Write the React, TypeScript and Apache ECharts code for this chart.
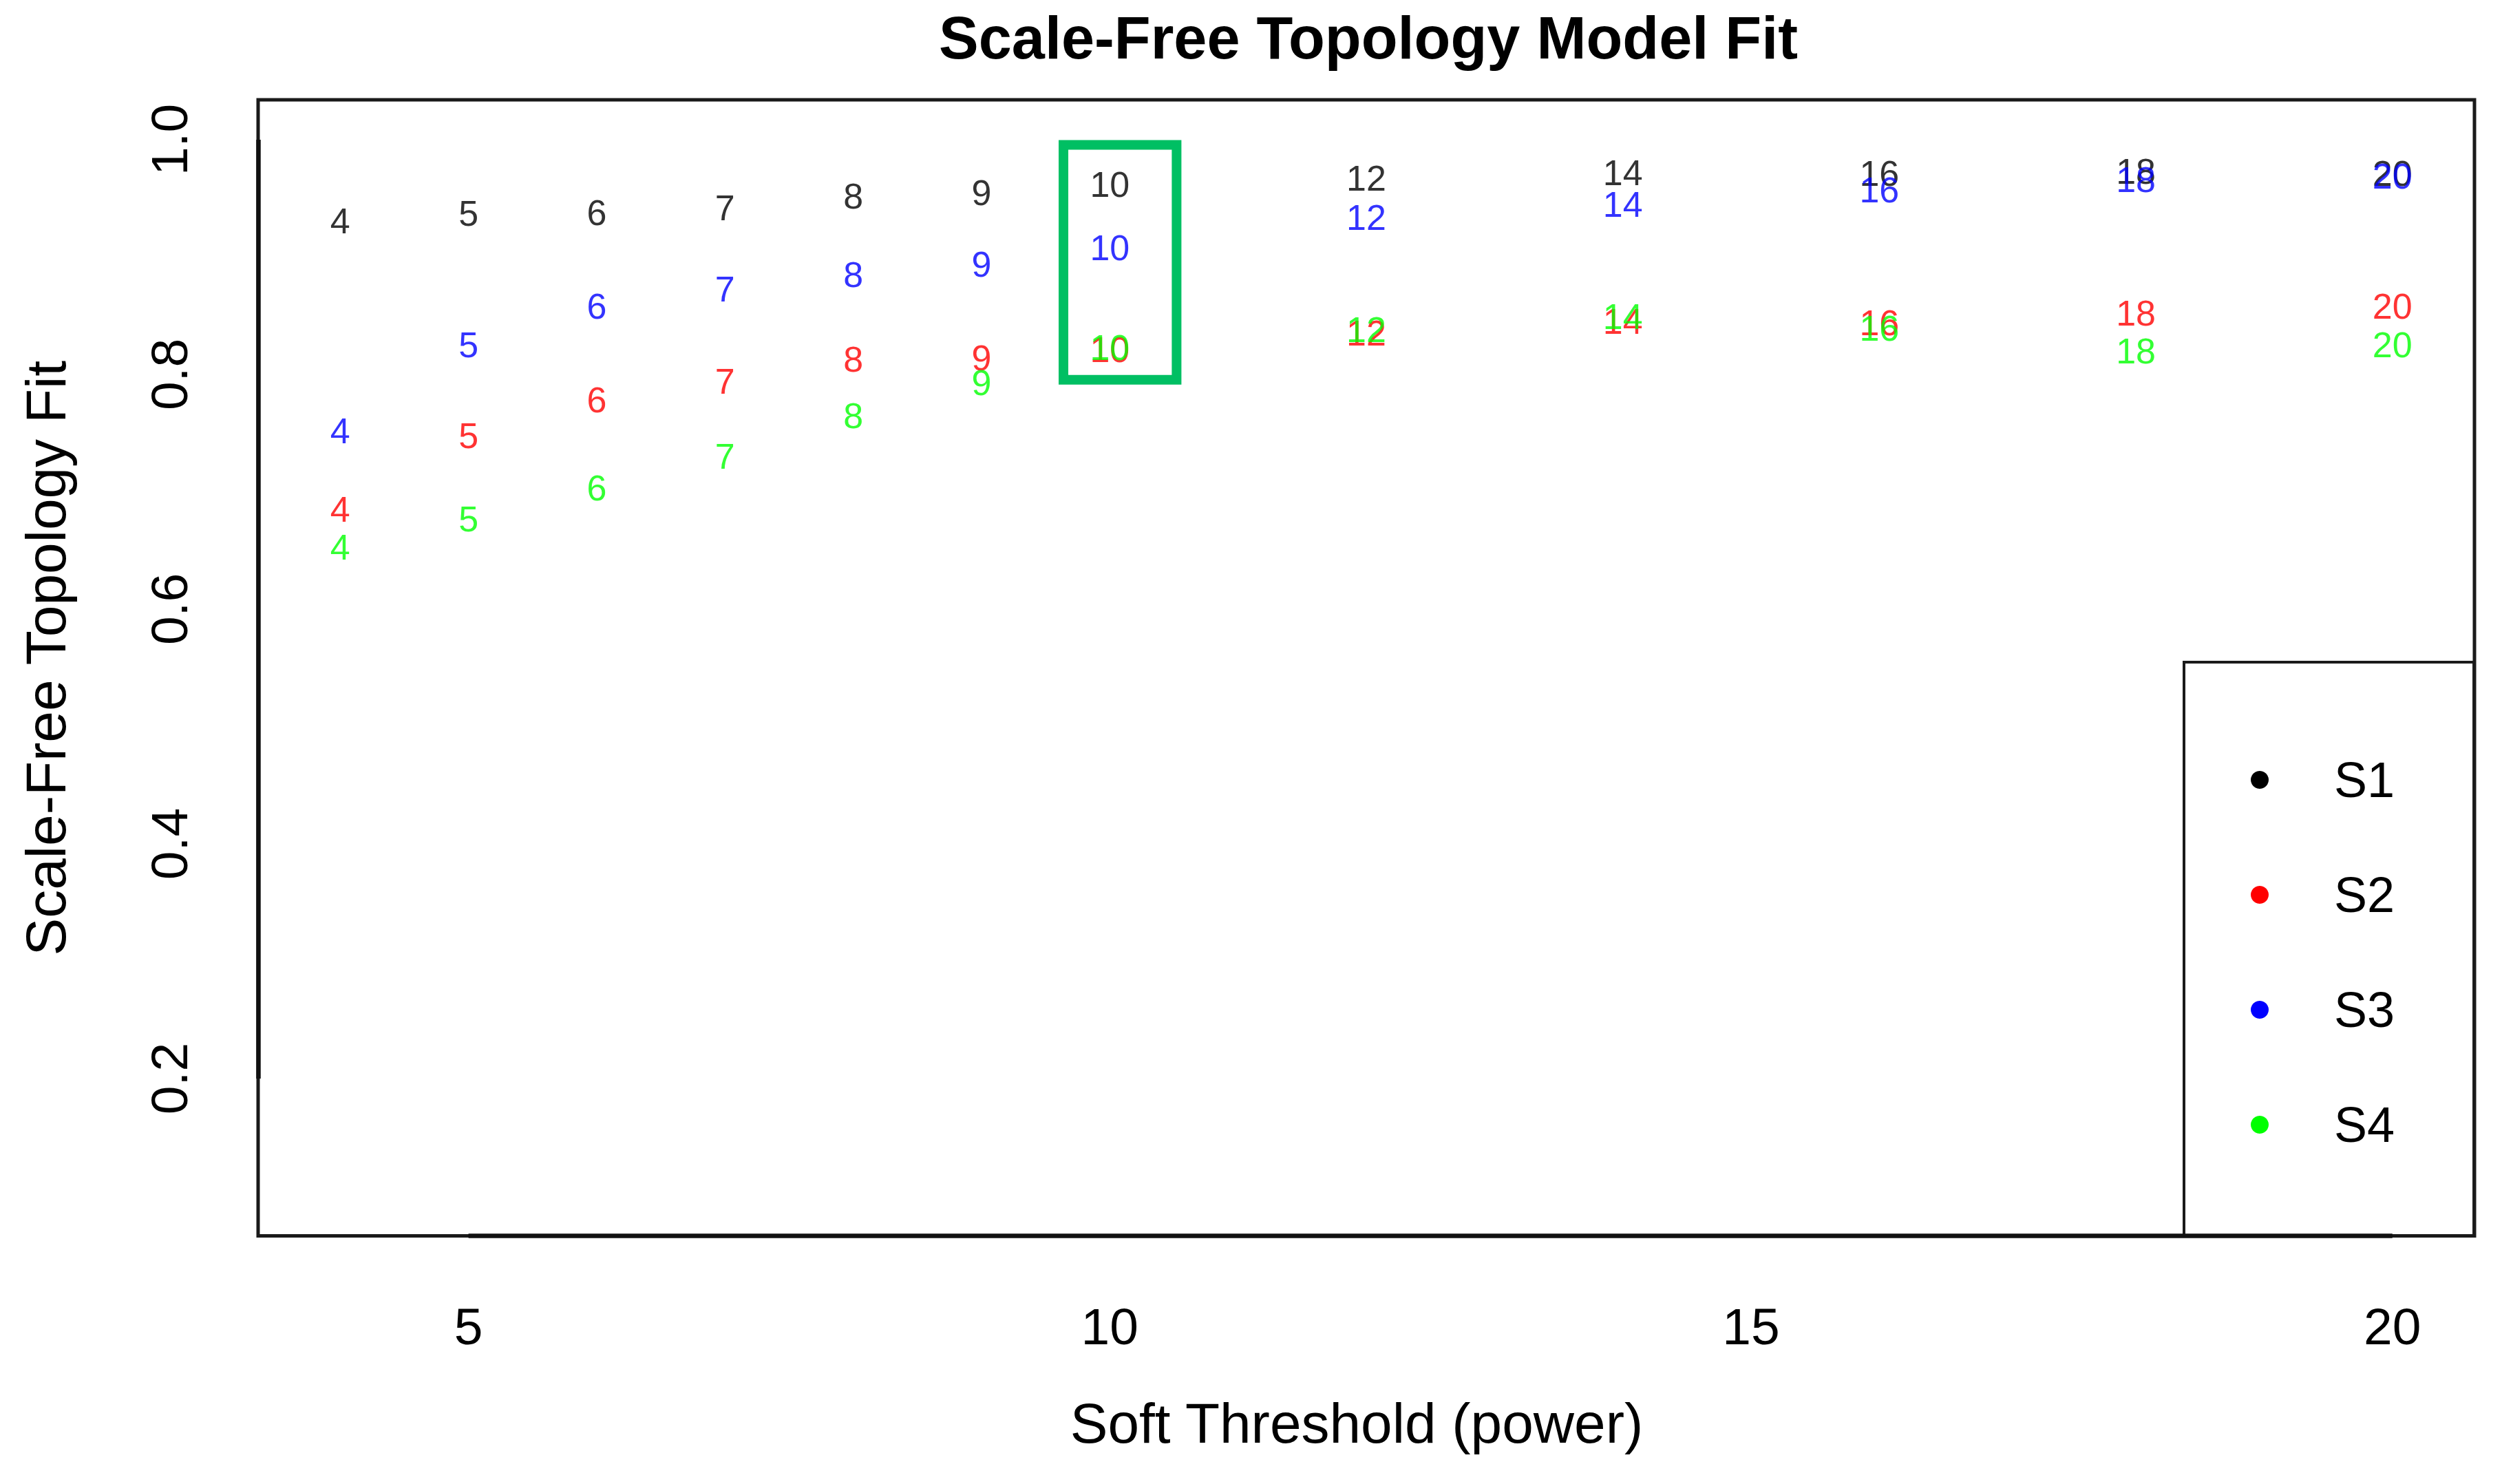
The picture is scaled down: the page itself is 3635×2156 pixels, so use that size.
import React, { useEffect, useRef } from "react";
import * as echarts from "echarts";

// ---- data ----
const powers = [4, 5, 6, 7, 8, 9, 10, 12, 14, 16, 18, 20];
const seriesNames = ["S1", "S2", "S3", "S4"];
const seriesColors = ["#000000", "#FF0000", "#0000FF", "#00FF00"];
const s1Fit = [0.931, 0.937, 0.938, 0.942, 0.952, 0.955, 0.962, 0.967, 0.972, 0.971, 0.973, 0.971];
const s2Fit = [0.685, 0.748, 0.778, 0.794, 0.813, 0.814, 0.821, 0.835, 0.845, 0.844, 0.852, 0.858];
const s3Fit = [0.752, 0.825, 0.858, 0.873, 0.885, 0.894, 0.908, 0.934, 0.945, 0.957, 0.966, 0.969];
const s4Fit = [0.653, 0.677, 0.703, 0.730, 0.765, 0.793, 0.823, 0.838, 0.849, 0.839, 0.820, 0.825];
const xTicks = [5, 10, 15, 20];
const yTicks = [0.2, 0.4, 0.6, 0.8, 1.0];

// axis ranges (R style: data range widened by 4%)
const xMin = 3.36;
const xMax = 20.64;
const yMin = 0.066;
const yMax = 1.034;

// highlight box around the chosen power (data coordinates)
const boxX = [9.639, 10.521];
const boxY = [0.7955, 0.9956];

const FONT = "'Liberation Sans', Arial, Helvetica, sans-serif";

export default function App() {
  const ref = useRef<HTMLDivElement>(null);

  useEffect(() => {
    if (!ref.current) return;
    const chart = echarts.init(ref.current, null, { renderer: "svg" });
    const fits = [s1Fit, s2Fit, s3Fit, s4Fit];

    const dataSeries = seriesNames.map((name, i) => ({
      type: "scatter",
      name,
      data: powers.map((p, j) => [p, fits[i][j]]),
      symbol: "circle",
      symbolSize: 0.1,
      itemStyle: { color: seriesColors[i] },
      silent: true,
      label: {
        show: true,
        position: "inside",
        formatter: (p: any) => String(p.value[0]),
        color: seriesColors[i],
        fontSize: 52,
        fontFamily: FONT,
      },
    }));

    const helper = {
      type: "scatter",
      name: "helper",
      data: [],
      clip: false,
      silent: true,
      markArea: {
        silent: true,
        label: { show: false },
        itemStyle: { color: "rgba(0,0,0,0)", borderColor: "#00BF63", borderWidth: 14 },
        data: [[{ coord: [boxX[0], boxY[1]] }, { coord: [boxX[1], boxY[0]] }]],
      },
      markLine: {
        silent: true,
        symbol: ["none", "none"],
        label: { show: false },
        lineStyle: { color: "#111111", width: 6.5, type: "solid" },
        data: [
          [{ coord: [xMin, yTicks[0]] }, { coord: [xMin, yTicks[yTicks.length - 1]] }],
          [{ coord: [xTicks[0], yMin] }, { coord: [xTicks[xTicks.length - 1], yMin] }],
        ],
      },
    };

    chart.setOption({
      animation: false,
      backgroundColor: "#ffffff",
      title: {
        text: "Scale-Free Topology Model Fit",
        left: 1988,
        top: 11,
        textAlign: "center",
        padding: 0,
        textStyle: { fontSize: 86.5, fontWeight: "bold", color: "#000", fontFamily: FONT },
      },
      grid: {
        show: true,
        left: 375,
        right: 40,
        top: 145,
        bottom: 360.5,
        borderColor: "#1a1a1a",
        borderWidth: 5,
        backgroundColor: "rgba(0,0,0,0)",
      },
      xAxis: {
        type: "value",
        min: xMin,
        max: xMax,
        splitLine: { show: false },
        axisLine: { show: false },
        axisTick: { show: false },
        axisLabel: {
          customValues: xTicks,
          fontSize: 75,
          color: "#000",
          margin: 94,
          fontFamily: FONT,
        },
        name: "Soft Threshold (power)",
        nameLocation: "middle",
        nameGap: 231,
        nameTextStyle: { fontSize: 82, color: "#000", fontFamily: FONT, padding: [0, 28, 0, 0] },
      },
      yAxis: {
        type: "value",
        min: yMin,
        max: yMax,
        splitLine: { show: false },
        axisLine: { show: false },
        axisTick: { show: false },
        axisLabel: {
          customValues: yTicks,
          rotate: 90,
          fontSize: 75,
          color: "#000",
          margin: 92,
          fontFamily: FONT,
          formatter: (v: number) => v.toFixed(1),
        },
        name: "Scale-Free Topology Fit",
        nameLocation: "middle",
        nameGap: 268,
        nameTextStyle: { fontSize: 82, color: "#000", fontFamily: FONT, padding: [0, 0, 0, 28] },
      },
      legend: {
        orient: "vertical",
        left: 3173,
        top: 962,
        icon: "circle",
        itemWidth: 26,
        itemHeight: 26,
        itemGap: 87,
        padding: [131, 115, 121, 97],
        borderColor: "#1a1a1a",
        borderWidth: 4,
        backgroundColor: "#ffffff",
        selectedMode: false,
        textStyle: {
          fontSize: 72,
          lineHeight: 80,
          color: "#000",
          fontFamily: FONT,
          padding: [0, 0, 0, 90],
        },
        data: seriesNames.map((n, i) => ({ name: n, itemStyle: { color: seriesColors[i], opacity: 1 } })),
      },
      series: [helper, ...dataSeries],
    });

    return () => chart.dispose();
  }, []);

  return (
    <div
      ref={ref}
      style={{ position: "fixed", left: 0, top: 0, width: 3635, height: 2156, background: "#fff" }}
    />
  );
}
